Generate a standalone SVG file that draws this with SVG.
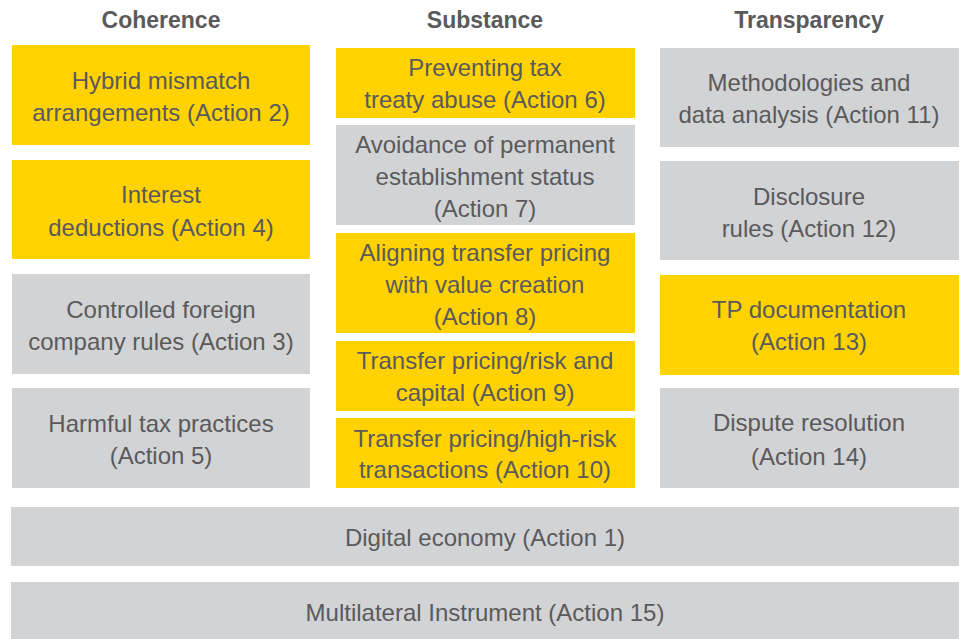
<svg xmlns="http://www.w3.org/2000/svg" width="964" height="639" viewBox="0 0 964 639">
<style>
.y{fill:#FFD200}
.g{fill:#D2D3D5}
text{font-family:"Liberation Sans",Arial,sans-serif;font-size:24px;fill:#5A5A5C;text-anchor:middle}
.h{font-weight:bold;font-size:23px}
</style>
<rect width="964" height="639" fill="#fff"/>
<g id="headers">
<text class="h" x="161" y="28">Coherence</text>
<text class="h" x="485" y="28">Substance</text>
<text class="h" x="809" y="28">Transparency</text>
</g>
<g id="a2"><rect class="y" x="12" y="45" width="298" height="100"/><text x="161" y="89">Hybrid mismatch</text><text x="161" y="121">arrangements (Action 2)</text></g>
<g id="a4"><rect class="y" x="12" y="160" width="298" height="99"/><text x="161" y="203">Interest</text><text x="161" y="236">deductions (Action 4)</text></g>
<g id="a3"><rect class="g" x="12" y="274" width="298" height="100"/><text x="161" y="318">Controlled foreign</text><text x="161" y="350">company rules (Action 3)</text></g>
<g id="a5"><rect class="g" x="12" y="388" width="298" height="100"/><text x="161" y="432">Harmful tax practices</text><text x="161" y="464">(Action 5)</text></g>
<g id="a6"><rect class="y" x="336" y="48" width="299" height="70"/><text x="485" y="76">Preventing tax</text><text x="485" y="108">treaty abuse (Action 6)</text></g>
<g id="a7"><rect class="g" x="336" y="125" width="299" height="100"/><text x="485" y="153">Avoidance of permanent</text><text x="485" y="185">establishment status</text><text x="485" y="217">(Action 7)</text></g>
<g id="a8"><rect class="y" x="336" y="233" width="299" height="100"/><text x="485" y="261">Aligning transfer pricing</text><text x="485" y="293">with value creation</text><text x="485" y="325">(Action 8)</text></g>
<g id="a9"><rect class="y" x="336" y="341" width="299" height="70"/><text x="485" y="369">Transfer pricing/risk and</text><text x="485" y="401">capital (Action 9)</text></g>
<g id="a10"><rect class="y" x="336" y="418" width="299" height="70"/><text x="485" y="447">Transfer pricing/high-risk</text><text x="485" y="478">transactions (Action 10)</text></g>
<g id="a11"><rect class="g" x="660" y="48" width="299" height="99"/><text x="809" y="91">Methodologies and</text><text x="809" y="123">data analysis (Action 11)</text></g>
<g id="a12"><rect class="g" x="660" y="161" width="299" height="99"/><text x="809" y="205">Disclosure</text><text x="809" y="237">rules (Action 12)</text></g>
<g id="a13"><rect class="y" x="660" y="275" width="299" height="100"/><text x="809" y="318">TP documentation</text><text x="809" y="350">(Action 13)</text></g>
<g id="a14"><rect class="g" x="660" y="388" width="299" height="100"/><text x="809" y="431">Dispute resolution</text><text x="809" y="465">(Action 14)</text></g>
<g id="a1"><rect class="g" x="11" y="507" width="948" height="59"/><text x="485" y="546">Digital economy (Action 1)</text></g>
<g id="a15"><rect class="g" x="11" y="582" width="948" height="57"/><text x="485" y="621">Multilateral Instrument (Action 15)</text></g>
<g id="connectors"/>
</svg>
